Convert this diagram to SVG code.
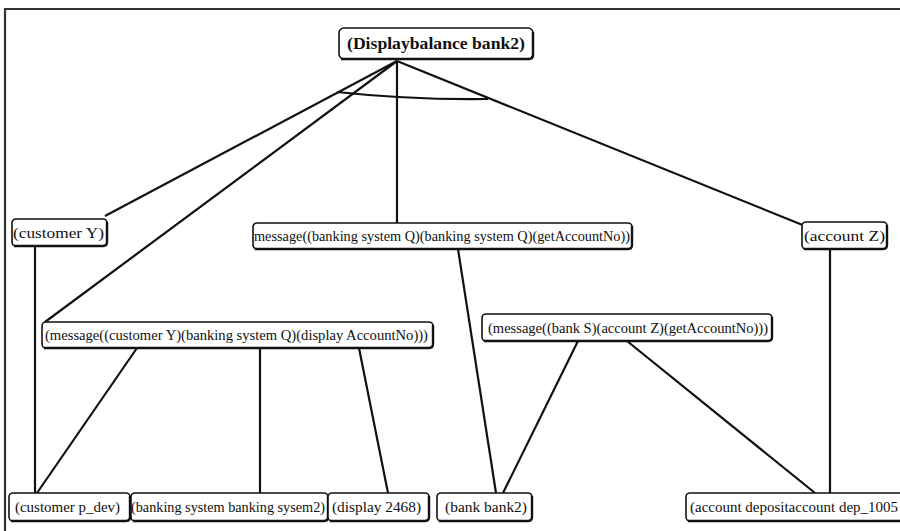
<svg xmlns="http://www.w3.org/2000/svg" width="900" height="531" viewBox="0 0 900 531">
  <style>
    .box { fill: #fff; stroke: #111; stroke-width: 1.6; }
    .shadow { fill: none; stroke: #111; stroke-width: 2.4; }
    .lbl { font-family: "Liberation Serif", "Times New Roman", serif; font-size: 15px; fill: #111; }
    .root { font-weight: bold; font-size: 17px; }
    .edge { stroke: #111; stroke-width: 2.2; fill: none; }
  </style>
  <rect width="900" height="531" fill="#fff"/>
  <!-- outer frame -->
  <path d="M5 531 V9 H900" fill="none" stroke="#333" stroke-width="2.2"/>

  <g id="connectors">
    <line class="edge" x1="397" y1="61" x2="105" y2="216"/>
    <line class="edge" x1="397" y1="61" x2="45" y2="322"/>
    <line class="edge" x1="397" y1="61" x2="397" y2="223"/>
    <line class="edge" x1="397" y1="61" x2="805" y2="226"/>
    <!-- AND arc over the root's branches -->
    <path class="edge" d="M337 92 Q410 100 488 99"/>
    <line class="edge" x1="35" y1="246" x2="35" y2="493"/>
    <line class="edge" x1="137" y1="348" x2="37" y2="493"/>
    <line class="edge" x1="260" y1="348" x2="260" y2="493"/>
    <line class="edge" x1="359" y1="348" x2="388" y2="493"/>
    <line class="edge" x1="458" y1="249" x2="496" y2="493"/>
    <line class="edge" x1="578" y1="341" x2="503" y2="493"/>
    <line class="edge" x1="627" y1="341" x2="815" y2="493"/>
    <line class="edge" x1="830" y1="249" x2="830" y2="493"/>
  </g>

  <g id="n-root">
    <rect class="box" x="339" y="28" width="194" height="31" rx="5"/>
    <path class="shadow" d="M341 59 H529 Q533 59 533 55 V32"/>
    <text class="lbl root" x="347" y="49" textLength="178" lengthAdjust="spacingAndGlyphs">(Displaybalance bank2)</text>
  </g>

  <g id="n-customerY">
    <rect class="box" x="12" y="219" width="95" height="27" rx="4"/>
    <path class="shadow" d="M14 246 H103 Q107 246 107 242 V222"/>
    <text class="lbl" x="13" y="238" textLength="91" lengthAdjust="spacingAndGlyphs">(customer Y)</text>
  </g>

  <g id="n-msgQ">
    <rect class="box" x="253" y="223" width="379" height="26" rx="4"/>
    <path class="shadow" d="M255 249 H628 Q632 249 632 245 V226"/>
    <text class="lbl" x="254" y="241" textLength="376" lengthAdjust="spacingAndGlyphs">message((banking system Q)(banking system Q)(getAccountNo))</text>
  </g>

  <g id="n-accountZ">
    <rect class="box" x="802" y="222" width="85" height="27" rx="4"/>
    <path class="shadow" d="M804 249 H883 Q887 249 887 245 V225"/>
    <text class="lbl" x="804" y="241" textLength="81" lengthAdjust="spacingAndGlyphs">(account Z)</text>
  </g>

  <g id="n-msgY">
    <rect class="box" x="42" y="322" width="391" height="26" rx="4"/>
    <path class="shadow" d="M44 348 H429 Q433 348 433 344 V325"/>
    <text class="lbl" x="45" y="340" textLength="383" lengthAdjust="spacingAndGlyphs">(message((customer Y)(banking system Q)(display AccountNo)))</text>
  </g>

  <g id="n-msgS">
    <rect class="box" x="482" y="314" width="290" height="27" rx="4"/>
    <path class="shadow" d="M484 341 H768 Q772 341 772 337 V317"/>
    <text class="lbl" x="488" y="333" textLength="280" lengthAdjust="spacingAndGlyphs">(message((bank S)(account Z)(getAccountNo)))</text>
  </g>

  <g id="n-pdev">
    <rect class="box" x="9" y="493" width="121" height="28" rx="4"/>
    <path class="shadow" d="M11 521 H126 Q130 521 130 517 V496"/>
    <text class="lbl" x="15" y="512" textLength="105" lengthAdjust="spacingAndGlyphs">(customer p_dev)</text>
  </g>

  <g id="n-sysem2">
    <rect class="box" x="131" y="493" width="197" height="28" rx="4"/>
    <path class="shadow" d="M133 521 H324 Q328 521 328 517 V496"/>
    <text class="lbl" x="131" y="512" textLength="194" lengthAdjust="spacingAndGlyphs">(banking system banking sysem2)</text>
  </g>

  <g id="n-display">
    <rect class="box" x="328" y="493" width="101" height="28" rx="4"/>
    <path class="shadow" d="M330 521 H425 Q429 521 429 517 V496"/>
    <text class="lbl" x="332" y="512" textLength="89" lengthAdjust="spacingAndGlyphs">(display 2468)</text>
  </g>

  <g id="n-bank2">
    <rect class="box" x="437" y="493" width="95" height="28" rx="4"/>
    <path class="shadow" d="M439 521 H528 Q532 521 532 517 V496"/>
    <text class="lbl" x="445" y="512" textLength="82" lengthAdjust="spacingAndGlyphs">(bank bank2)</text>
  </g>

  <g id="n-dep1005">
    <rect class="box" x="686" y="493" width="230" height="28" rx="4"/>
    <path class="shadow" d="M688 521 H912"/>
    <text class="lbl" x="690" y="512" textLength="208" lengthAdjust="spacingAndGlyphs">(account depositaccount dep_1005</text>
  </g>
</svg>
